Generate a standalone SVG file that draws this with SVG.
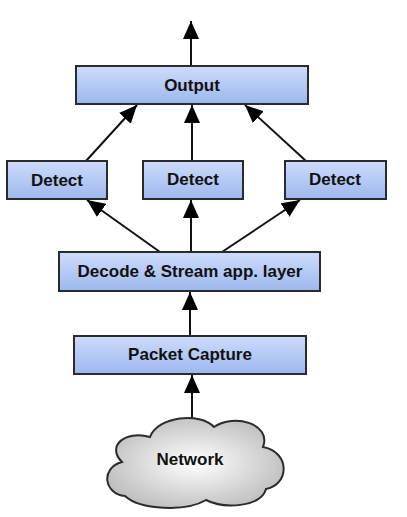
<svg xmlns="http://www.w3.org/2000/svg" width="407" height="517" viewBox="0 0 407 517">
<defs>
<linearGradient id="boxg" x1="0" y1="0" x2="0" y2="1">
<stop offset="0" stop-color="#cddcfb"/>
<stop offset="1" stop-color="#9db7ee"/>
</linearGradient>
<radialGradient id="cloudg" cx="0.5" cy="0.5" r="0.6">
<stop offset="0" stop-color="#ffffff"/>
<stop offset="1" stop-color="#b8b8b8"/>
</radialGradient>
<marker id="ah" markerUnits="userSpaceOnUse" markerWidth="18" markerHeight="16" refX="18" refY="8" orient="auto">
<path d="M0,0 L18,8 L0,16 Z" fill="#000"/>
</marker>
</defs>
<style>
.box{fill:url(#boxg);stroke:#2b2b2b;stroke-width:2}
.lbl{font-family:"Liberation Sans",Arial,sans-serif;font-weight:bold;font-size:17px;fill:#111;text-anchor:middle;dominant-baseline:central}
.c{stroke:#111;stroke-width:2;fill:none;marker-end:url(#ah)}
</style>
<rect width="407" height="517" fill="#fff"/>
<g id="connectors">
<line class="c" x1="191" y1="66" x2="191" y2="21"/>
<line class="c" x1="86" y1="161" x2="137" y2="105"/>
<line class="c" x1="192" y1="161" x2="192" y2="105"/>
<line class="c" x1="306" y1="161" x2="245" y2="105"/>
<line class="c" x1="160" y1="252" x2="87" y2="200"/>
<line class="c" x1="191" y1="252" x2="191" y2="200"/>
<line class="c" x1="222" y1="252" x2="300" y2="200"/>
<line class="c" x1="190" y1="336" x2="190" y2="292"/>
<line class="c" x1="192" y1="421" x2="192" y2="375"/>
</g>
<g id="output"><rect class="box" x="76" y="66" width="232" height="38"/><text class="lbl" x="192" y="85">Output</text></g>
<g id="detect1"><rect class="box" x="7" y="161" width="100" height="38"/><text class="lbl" x="57" y="180">Detect</text></g>
<g id="detect2"><rect class="box" x="143" y="161" width="100" height="38"/><text class="lbl" x="193" y="179">Detect</text></g>
<g id="detect3"><rect class="box" x="285" y="161" width="101" height="38"/><text class="lbl" x="335" y="179">Detect</text></g>
<g id="decode"><rect class="box" x="59" y="252" width="261" height="39"/><text class="lbl" x="190" y="271">Decode &amp; Stream app. layer</text></g>
<g id="capture"><rect class="box" x="74" y="336" width="232" height="38"/><text class="lbl" x="190" y="354">Packet Capture</text></g>
<g id="network">
<path d="M125 496 C104 494 100 468 122 462 C106 446 125 430 150 437 C158 416 200 412 214 427 C234 413 272 424 263 447 C290 452 290 484 266 489 C262 506 226 510 206 500 C186 512 140 510 125 496 Z" fill="url(#cloudg)" stroke="#2b2b2b" stroke-width="2"/>
<text class="lbl" x="190" y="459">Network</text>
</g>
</svg>
